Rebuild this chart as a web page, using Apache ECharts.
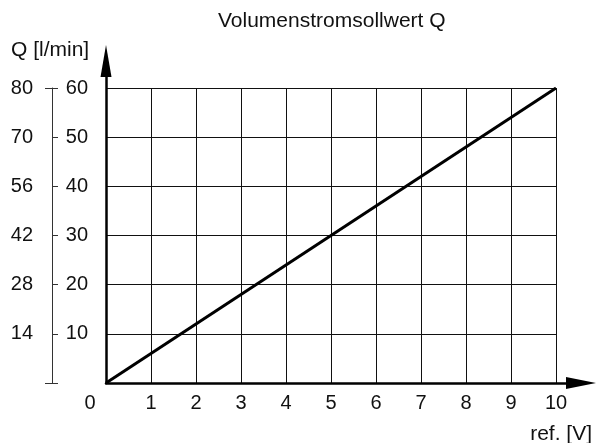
<!DOCTYPE html>
<html>
<head>
<meta charset="utf-8">
<script src="https://cdn.jsdelivr.net/npm/echarts@6/dist/echarts.min.js"></script>
<style>
    html, body { margin: 0; padding: 0; background: #fff; }
    #chart { width: 598px; height: 443px; }
</style>
</head>
<body>
<div id="chart"></div>
<script>
// reference line: setpoint voltage -> flow
const refVolt = [0, 10];
const flowInner = [0, 60];
// second scale printed left of the grid
const outerLabels = ['', '14', '28', '42', '56', '70', '80'];

const font = 'Liberation Sans, Arial, sans-serif';
const ink = '#111';

let myChart = echarts.init(document.getElementById('chart'));

let option = {
    animation: false,
    backgroundColor: '#fff',
    textStyle: { fontFamily: font },
    title: [
        { text: 'Volumenstromsollwert Q', left: 213, top: 6,
          textStyle: { fontSize: 21, fontWeight: 'normal', color: ink, fontFamily: font } },
        { text: 'Q [l/min]', left: 6, top: 35,
          textStyle: { fontSize: 21, fontWeight: 'normal', color: ink, fontFamily: font } },
        { text: 'ref. [V]', right: 1, top: 419,
          textStyle: { fontSize: 21, fontWeight: 'normal', color: ink, fontFamily: font } }
    ],
    grid: [
        { left: 106, right: 42, top: 88, bottom: 60 },
        { left: 106, right: 17, top: 61, bottom: 60 }
    ],
    xAxis: [
        {
            gridIndex: 0, type: 'value', min: 0, max: 10, interval: 1,
            axisLine: { show: false },
            axisTick: { show: false },
            splitLine: { show: true, lineStyle: { color: ink, width: 1 } },
            axisLabel: {
                fontSize: 20, color: ink, margin: 10, fontFamily: font,
                formatter: v => v === 0 ? '{z|0}' : String(v),
                rich: { z: { fontSize: 20, color: ink, fontFamily: font, padding: [0, 32, 0, 0] } }
            }
        },
        {
            gridIndex: 1, type: 'value', min: 0, max: 10.556,
            axisLine: { show: true, symbol: ['none', 'triangle'], symbolSize: [12, 30],
                        lineStyle: { color: '#000', width: 2.5 } },
            axisTick: { show: false },
            axisLabel: { show: false },
            splitLine: { show: false }
        }
    ],
    yAxis: [
        {
            gridIndex: 0, type: 'value', min: 0, max: 60, interval: 10,
            axisLine: { show: false },
            axisTick: { show: false },
            splitLine: { show: true, lineStyle: { color: ink, width: 1 } },
            axisLabel: {
                fontSize: 20, color: ink, margin: 18, fontFamily: font, padding: [0, 0, 5, 0],
                formatter: v => v === 0 ? '' : String(v)
            }
        },
        {
            gridIndex: 0, type: 'value', position: 'left', offset: 54,
            min: 0, max: 60, interval: 10,
            axisLine: { show: true, lineStyle: { color: '#333', width: 1 } },
            axisTick: { show: true, inside: true, length: 6, lineStyle: { color: '#333', width: 1 } },
            splitLine: { show: false },
            axisLabel: {
                fontSize: 20, color: ink, margin: 19, fontFamily: font, padding: [0, 0, 5, 0],
                formatter: (v, i) => outerLabels[i] || ''
            }
        },
        {
            gridIndex: 0, type: 'value', position: 'left', offset: 54,
            min: 0, max: 60, interval: 60,
            axisLine: { show: false },
            axisTick: { show: true, length: 7, lineStyle: { color: '#333', width: 1 } },
            splitLine: { show: false },
            axisLabel: { show: false }
        },
        {
            gridIndex: 1, type: 'value', min: 0, max: 65.5,
            axisLine: { show: true, symbol: ['none', 'triangle'], symbolSize: [11, 32],
                        lineStyle: { color: '#000', width: 2.5 } },
            axisTick: { show: false },
            axisLabel: { show: false },
            splitLine: { show: false }
        }
    ],
    series: [
        {
            type: 'line',
            xAxisIndex: 0, yAxisIndex: 0,
            data: refVolt.map((v, i) => [v, flowInner[i]]),
            symbol: 'none',
            lineStyle: { color: '#000', width: 3 },
            z: 5
        }
    ]
};

myChart.setOption(option);
</script>
</body>
</html>
